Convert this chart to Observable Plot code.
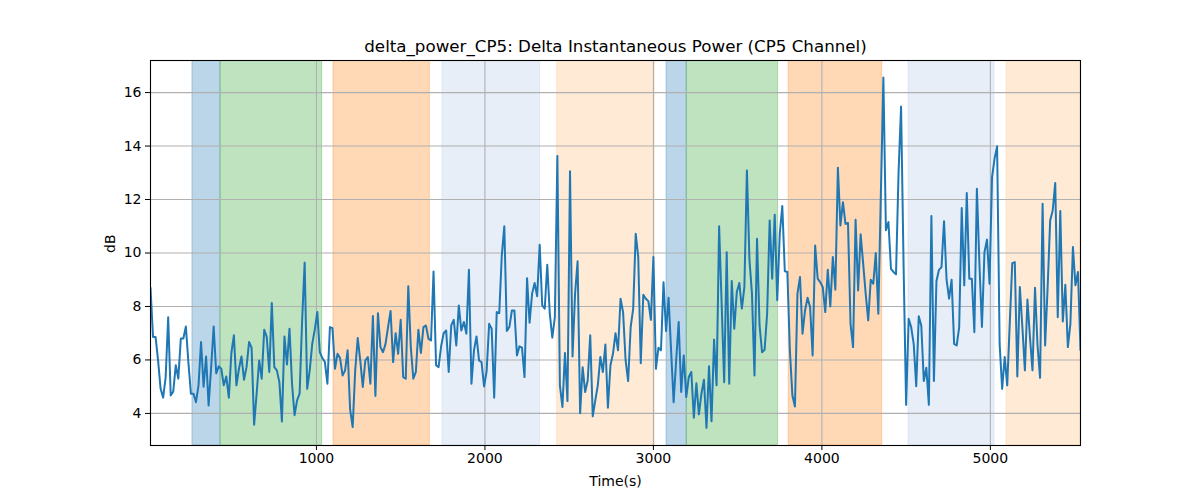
<!DOCTYPE html>
<html><head><meta charset="utf-8">
<script src="https://cdn.jsdelivr.net/npm/d3@7"></script>
<script src="https://cdn.jsdelivr.net/npm/@observablehq/plot@0.6"></script>
<style>body{margin:0;background:#fff} svg{display:block}</style>
</head><body><div id="chart"></div>
<script>
const title = "delta_power_CP5: Delta Instantaneous Power (CP5 Channel)";
const xLabel = "Time(s)";
const yLabel = "dB";
const sampleStart = 15, sampleStep = 15;
const power = [
 8.7,6.86,6.86,5.98,4.92,4.59,5.36,7.6,4.67,4.82,5.8,5.3,6.8,6.8,7.25,5.9,4.74,4.74,4.42,5.05,6.67,5.0,6.13,4.3,5.73,7.25,5.5,5.76,5.67,5.05,5.38,4.59,6.26,6.92,5.05,5.67,6.13,5.26,5.73,6.67,6.46,3.58,4.74,5.98,5.3,7.13,
 6.86,5.55,8.13,5.73,5.61,5.17,3.7,6.88,5.83,7.17,5.11,3.93,4.49,4.74,7.48,9.64,4.92,5.61,6.6,7.13,7.79,6.29,6.07,5.92,5.11,7.23,7.19,5.67,6.23,6.07,5.42,5.61,6.36,4.14,3.49,5.61,6.82,5.98,4.99,5.98,6.11,5.11,7.64,4.65,7.75,6.48,
 6.29,6.6,7.23,7.83,5.92,7.0,6.23,7.5,5.36,5.3,8.76,6.48,5.3,5.55,7.13,6.26,7.23,7.29,6.79,6.73,9.31,5.8,5.73,6.51,7.0,7.1,5.55,7.29,7.5,6.54,8.04,7.1,7.42,6.98,9.37,5.11,6.36,6.88,5.98,5.92,5.01,5.57,7.35,7.17,4.59,7.79,
 7.75,9.9,11.0,7.08,7.23,7.85,7.85,6.17,6.51,6.46,5.36,9.06,7.39,8.48,8.88,8.38,10.31,8.04,7.92,9.56,7.73,6.83,7.6,13.63,5.05,4.24,6.26,4.46,13.06,6.13,8.48,9.69,4.01,5.73,4.8,5.23,6.92,3.89,4.49,5.05,6.11,5.55,6.58,4.21,5.8,6.23,7.0,
 6.36,8.29,7.79,5.98,5.21,7.23,7.92,10.72,9.85,5.88,8.44,8.29,8.2,7.5,9.85,5.67,6.46,6.36,8.91,7.08,8.33,6.36,4.42,5.98,7.42,4.8,6.17,4.61,5.36,5.55,3.84,5.13,3.96,4.74,5.26,3.46,5.76,3.71,6.76,5.05,11.0,8.1,5.17,10.03,5.11,8.95,
 7.17,8.54,8.88,7.92,8.73,13.09,9.75,8.48,5.42,10.53,7.29,6.29,6.38,7.73,11.22,9.04,11.43,8.23,10.72,11.76,9.32,9.29,6.36,4.67,4.26,8.48,9.1,6.98,7.85,8.33,7.98,6.17,10.28,9.04,8.91,8.73,7.79,9.37,8.0,9.85,8.63,13.19,11.03,11.9,11.09,11.12,
 7.35,6.48,11.24,8.6,10.7,9.6,8.48,7.48,9.0,8.85,10.0,7.73,12.2,16.56,10.85,11.16,9.41,9.29,9.2,13.0,15.48,9.5,4.32,7.54,7.23,6.6,5.02,7.63,7.29,5.21,5.71,4.32,11.38,5.21,8.95,9.37,9.47,11.19,9.0,8.29,9.0,6.6,6.54,7.23,11.68,8.79,
 12.24,9.04,9.04,7.04,12.4,9.6,7.23,10.03,10.5,8.85,12.84,13.53,13.99,6.6,4.92,6.11,5.05,7.35,9.62,9.66,5.38,8.73,7.23,5.61,8.26,6.86,5.61,8.7,6.54,5.33,11.84,6.54,8.73,11.22,11.59,12.62,7.6,11.57,7.44,8.81,6.48,7.35,10.22,8.79,9.29,6.36
];
const spanStart = [264, 430.5, 1101, 1748, 2429, 3078, 3198, 3803, 4514, 5096];
const spanEnd   = [430.5, 1034, 1673, 2328, 3008, 3198, 3740, 4358, 5025, 5535];
const spanColor = ["#1f77b4","#2ca02c","#ff7f0e","#aec7e8","#ffbb78","#1f77b4","#2ca02c","#ff7f0e","#aec7e8","#ffbb78"];
const xTicks = [1000, 2000, 3000, 4000, 5000];
const yTicks = [4, 6, 8, 10, 12, 14, 16];
const xDomain = [15, 5535];
const yDomain = [2.8, 17.2];

const series = power.map((v, i) => ({t: sampleStart + sampleStep * i, v}));
const spans = spanStart.map((s, i) => ({x1: s, x2: spanEnd[i], c: spanColor[i]}));

const chart = Plot.plot({
  width: 1200, height: 500,
  marginLeft: 150, marginRight: 120, marginTop: 60, marginBottom: 55,
  style: {fontFamily: "'DejaVu Sans', sans-serif", fontSize: "14px", color: "black", background: "white"},
  x: {domain: xDomain},
  y: {domain: yDomain},
  color: {type: "identity"},
  marks: [
    Plot.rect(spans, {x1: "x1", x2: "x2", fill: "c", fillOpacity: 0.3, stroke: "c", strokeOpacity: 0.3, strokeWidth: 1, clip: true}),
    Plot.gridX(xTicks, {stroke: "#b0b0b0", strokeOpacity: 1, strokeWidth: 1.1}),
    Plot.gridY(yTicks, {stroke: "#b0b0b0", strokeOpacity: 1, strokeWidth: 1.1}),
    Plot.line(series, {x: "t", y: "v", stroke: "#1f77b4", strokeWidth: 2, clip: true}),
    Plot.frame({stroke: "black", strokeWidth: 1.1}),
    Plot.axisX(xTicks, {tickSize: 5, tickPadding: 3, label: null, fontSize: 14, tickFormat: d => String(d)}),
    Plot.axisY(yTicks, {tickSize: 5, tickPadding: 4, label: null, fontSize: 14, tickFormat: d => String(d)}),
    Plot.text([title], {frameAnchor: "top", lineAnchor: "middle", dy: -14, fontSize: 16.7}),
    Plot.text([xLabel], {frameAnchor: "bottom", lineAnchor: "middle", dy: 36, fontSize: 14}),
    Plot.text([yLabel], {frameAnchor: "left", lineAnchor: "middle", dx: -40, rotate: -90, fontSize: 14})
  ]
});
document.getElementById("chart").appendChild(chart);
</script>
</body></html>
